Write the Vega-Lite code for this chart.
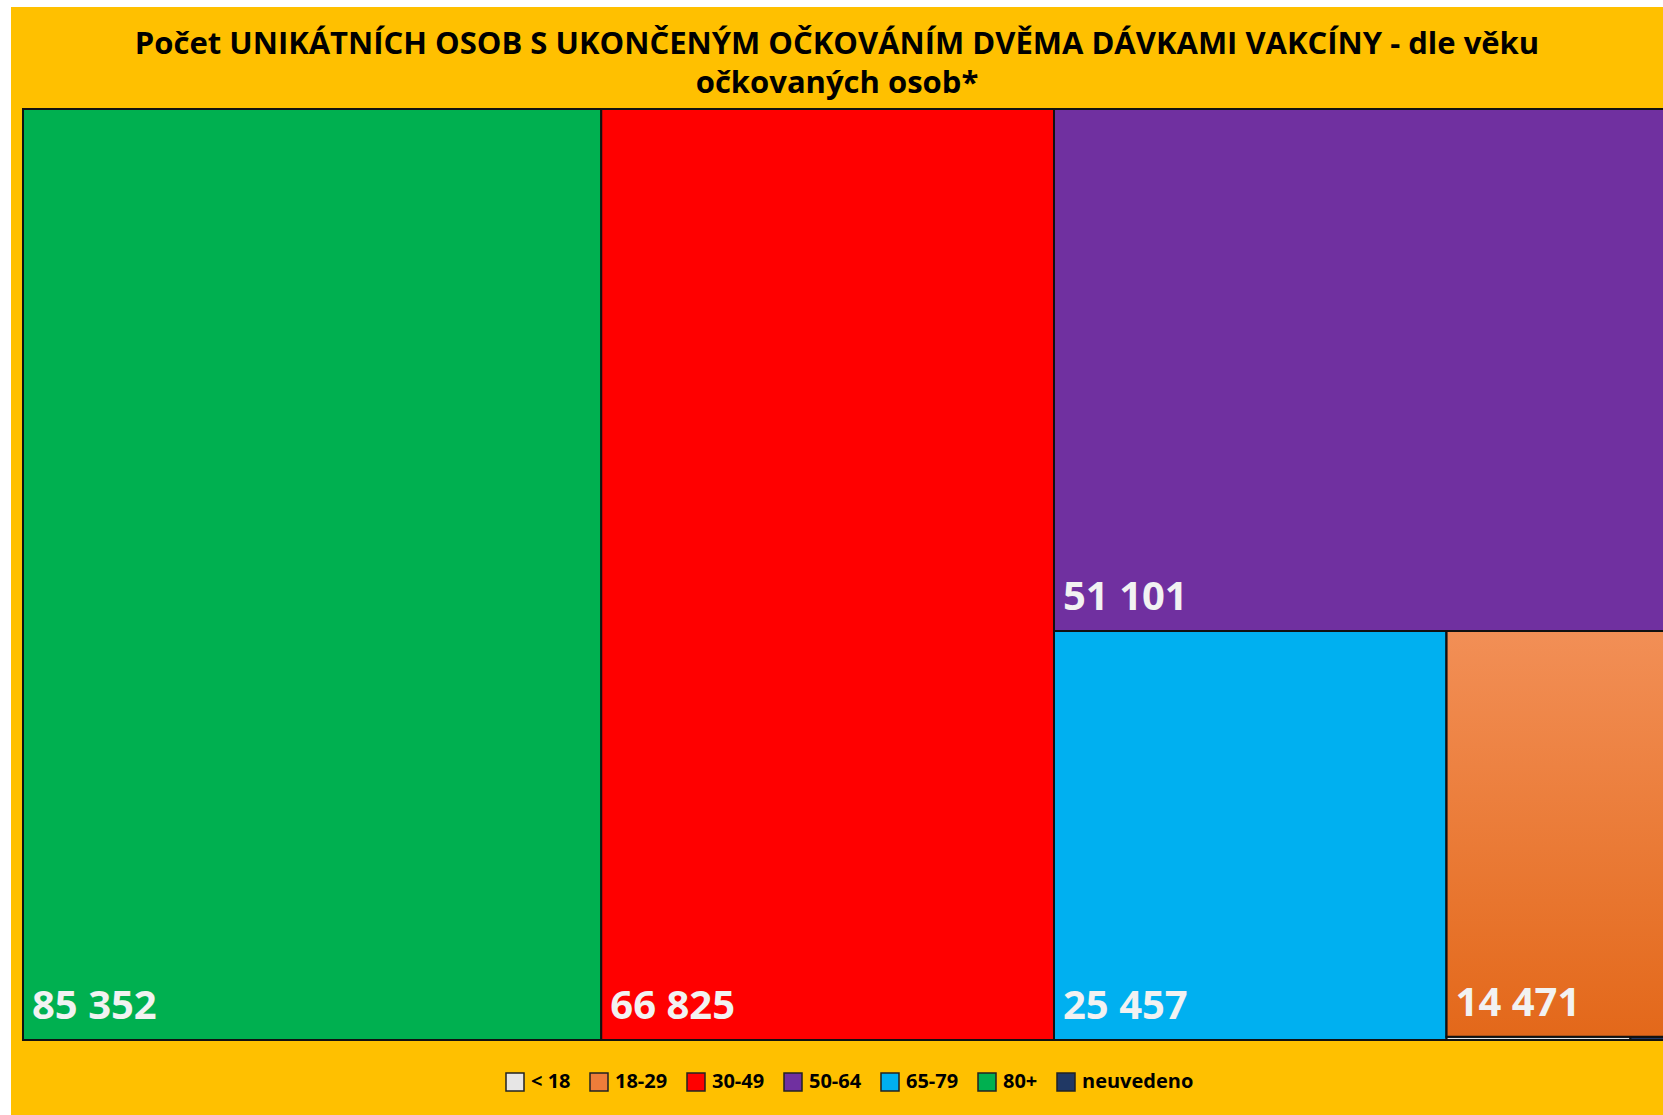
{
  "$schema": "https://vega.github.io/schema/vega-lite/v6.json",
  "width": 1652,
  "height": 1108,
  "autosize": {"type": "none"},
  "padding": {"left": 11, "top": 7, "right": 0, "bottom": 0},
  "background": "white",
  "config": {
    "view": {"fill": "#FFC000", "stroke": null},
    "locale": {"number": {"decimal": ",", "thousands": " ", "grouping": [3], "currency": ["", " Kč"]}},
    "font": "Open Sans"
  },
  "title": {
    "text": ["Počet UNIKÁTNÍCH OSOB S UKONČENÝM OČKOVÁNÍM DVĚMA DÁVKAMI VAKCÍNY - dle věku", "očkovaných osob*"],
    "fontSize": 31,
    "fontWeight": "bold",
    "font": "Open Sans",
    "color": "#000000",
    "lineHeight": 39,
    "anchor": "middle",
    "frame": "group",
    "offset": -93
  },
  "data": {
    "values": [
      {"age": "80+", "value": 85352, "order": 1, "l1": "g", "l2": "g", "l3": "g", "l4": "g", "l5": "g"},
      {"age": "30-49", "value": 66825, "order": 2, "l1": "r", "l2": "r", "l3": "r", "l4": "r", "l5": "r"},
      {"age": "50-64", "value": 51101, "order": 3, "l1": "C", "l2": "C1", "l3": "C1", "l4": "C1", "l5": "C1"},
      {"age": "65-79", "value": 25457, "order": 4, "l1": "C", "l2": "C2", "l3": "C2a", "l4": "C2a", "l5": "C2a"},
      {"age": "18-29", "value": 14471, "order": 5, "l1": "C", "l2": "C2", "l3": "C2b", "l4": "C2b1", "l5": "C2b1"},
      {"age": "< 18", "value": 94, "order": 6, "l1": "C", "l2": "C2", "l3": "C2b", "l4": "C2b2", "l5": "C2b2a"},
      {"age": "neuvedeno", "value": 21, "order": 7, "l1": "C", "l2": "C2", "l3": "C2b", "l4": "C2b2", "l5": "C2b2b"}
    ]
  },
  "transform": [
    {"joinaggregate": [{"op": "sum", "field": "value", "as": "T"}]},
    {"joinaggregate": [{"op": "sum", "field": "value", "as": "s1"}], "groupby": ["l1"]},
    {"joinaggregate": [{"op": "sum", "field": "value", "as": "s2"}], "groupby": ["l2"]},
    {"joinaggregate": [{"op": "sum", "field": "value", "as": "s3"}], "groupby": ["l3"]},
    {"joinaggregate": [{"op": "sum", "field": "value", "as": "s4"}], "groupby": ["l4"]},
    {"joinaggregate": [{"op": "sum", "field": "value", "as": "s5"}], "groupby": ["l5"]},
    {"window": [{"op": "sum", "field": "value", "as": "k1"}], "sort": [{"field": "order"}], "frame": [null, 0]},
    {"window": [{"op": "sum", "field": "value", "as": "k2"}], "sort": [{"field": "order"}], "groupby": ["l1"], "frame": [null, 0]},
    {"window": [{"op": "sum", "field": "value", "as": "k3"}], "sort": [{"field": "order"}], "groupby": ["l2"], "frame": [null, 0]},
    {"window": [{"op": "sum", "field": "value", "as": "k4"}], "sort": [{"field": "order"}], "groupby": ["l3"], "frame": [null, 0]},
    {"window": [{"op": "sum", "field": "value", "as": "k5"}], "sort": [{"field": "order"}], "groupby": ["l4"], "frame": [null, 0]},
    {"joinaggregate": [{"op": "max", "field": "k1", "as": "e1"}], "groupby": ["l1"]},
    {"joinaggregate": [{"op": "max", "field": "k2", "as": "e2"}], "groupby": ["l2"]},
    {"joinaggregate": [{"op": "max", "field": "k3", "as": "e3"}], "groupby": ["l3"]},
    {"joinaggregate": [{"op": "max", "field": "k4", "as": "e4"}], "groupby": ["l4"]},
    {"joinaggregate": [{"op": "max", "field": "k5", "as": "e5"}], "groupby": ["l5"]},
    {"calculate": "(datum.e1 - datum.s1) / datum.T", "as": "xa"},
    {"calculate": "datum.e1 / datum.T", "as": "xb"},
    {"calculate": "(datum.e2 - datum.s2) / datum.s1", "as": "ya"},
    {"calculate": "datum.e2 / datum.s1", "as": "yb"},
    {"calculate": "datum.xa + (datum.xb - datum.xa) * (datum.e3 - datum.s3) / datum.s2", "as": "xc"},
    {"calculate": "datum.xa + (datum.xb - datum.xa) * datum.e3 / datum.s2", "as": "xd"},
    {"calculate": "datum.ya + (datum.yb - datum.ya) * (datum.e4 - datum.s4) / datum.s3", "as": "yc"},
    {"calculate": "datum.ya + (datum.yb - datum.ya) * datum.e4 / datum.s3", "as": "yd"},
    {"calculate": "datum.xc + (datum.xd - datum.xc) * (datum.e5 - datum.s5) / datum.s4", "as": "xe"},
    {"calculate": "datum.xc + (datum.xd - datum.xc) * datum.e5 / datum.s4", "as": "xf"}
  ],
  "encoding": {
    "x": {"field": "xe", "type": "quantitative", "scale": {"domain": [-0.007279, 0.994844], "nice": false, "zero": false}, "axis": null},
    "y": {"field": "yc", "type": "quantitative", "scale": {"domain": [-0.10956, 1.080558], "reverse": true, "nice": false, "zero": false}, "axis": null}
  },
  "layer": [
    {
      "mark": {"type": "rect", "stroke": "#111111", "strokeWidth": 2, "opacity": 1},
      "encoding": {
        "x2": {"field": "xf"},
        "y2": {"field": "yd"},
        "color": {
          "field": "age",
          "type": "nominal",
          "scale": {
            "domain": ["< 18", "18-29", "30-49", "50-64", "65-79", "80+", "neuvedeno"],
            "range": ["#E7E6E6", "#EE7D3A", "#FF0000", "#7030A0", "#00B0F0", "#00B050", "#203864"]
          },
          "legend": {
            "orient": "none",
            "legendX": 494,
            "legendY": 1065,
            "direction": "horizontal",
            "columns": 7,
            "title": null,
            "padding": 0,
            "symbolType": "square",
            "symbolSize": 324,
            "symbolStrokeColor": "#222222",
            "symbolStrokeWidth": 1.5,
            "symbolOpacity": 1,
            "labelFont": "Open Sans",
            "labelFontSize": 20,
            "labelFontWeight": "bold",
            "labelColor": "#000000",
            "labelOffset": 6,
            "columnPadding": 16
          }
        }
      }
    },
    {
      "transform": [{"filter": "datum.age === '18-29'"}],
      "mark": {
        "type": "rect",
        "stroke": "#111111",
        "strokeWidth": 2,
        "color": {"gradient": "linear", "x1": 0, "y1": 0, "x2": 0, "y2": 1, "stops": [{"offset": 0, "color": "#F28F56"}, {"offset": 1, "color": "#E3681A"}]}
      },
      "encoding": {
        "x2": {"field": "xf"},
        "y2": {"field": "yd"}
      }
    },
    {
      "transform": [{"filter": "datum.value > 1000"}],
      "mark": {"type": "text", "align": "left", "baseline": "alphabetic", "dx": 9, "dy": -21, "fontSize": 40, "fontWeight": "bold", "font": "Open Sans", "color": "#F2F2F2"},
      "encoding": {
        "y": {"field": "yd", "type": "quantitative"},
        "text": {"field": "value", "type": "quantitative", "format": ",d"}
      }
    }
  ]
}
